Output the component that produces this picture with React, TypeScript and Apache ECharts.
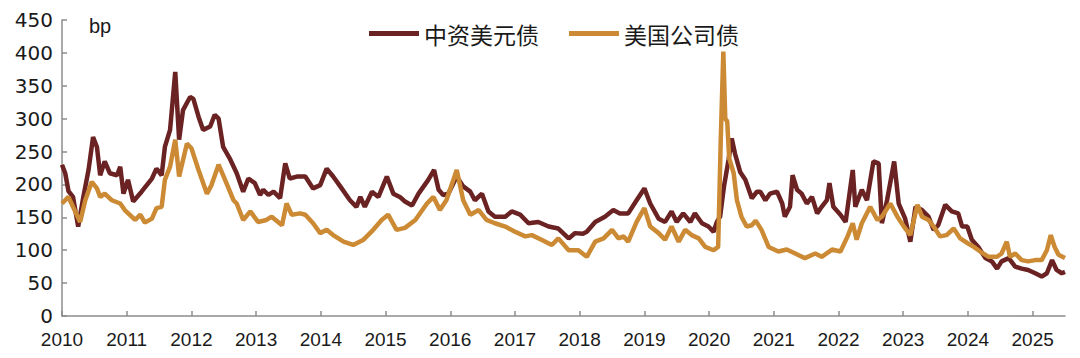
import React, { useEffect, useRef } from "react";
import * as echarts from "echarts";

const legendNames = ["中资美元债", "美国公司债"];
const yUnit = "bp";
const yearTicks = [2010, 2011, 2012, 2013, 2014, 2015, 2016, 2017, 2018, 2019, 2020, 2021, 2022, 2023, 2024, 2025];

// [fractional year, spread in bp]
const chinaUsdBond: [number, number][] = [
  [2010.0, 230], [2010.05, 217], [2010.1, 190], [2010.17, 181], [2010.25, 136], [2010.33, 181],
  [2010.41, 222], [2010.48, 272], [2010.54, 257], [2010.59, 214], [2010.66, 235], [2010.74, 217],
  [2010.85, 214], [2010.9, 227], [2010.95, 186], [2011.02, 207], [2011.1, 174], [2011.23, 189],
  [2011.39, 209], [2011.46, 224], [2011.54, 214], [2011.59, 257], [2011.67, 283], [2011.75, 371],
  [2011.81, 268], [2011.87, 313], [2011.98, 333], [2012.03, 330], [2012.11, 303], [2012.18, 283],
  [2012.29, 288], [2012.36, 306], [2012.42, 300], [2012.49, 257], [2012.6, 238], [2012.7, 217],
  [2012.8, 189], [2012.88, 209], [2012.98, 202], [2013.06, 184], [2013.11, 192], [2013.19, 184],
  [2013.27, 189], [2013.37, 179], [2013.45, 232], [2013.52, 209], [2013.63, 212], [2013.76, 212],
  [2013.88, 194], [2013.99, 199], [2014.09, 224], [2014.19, 212], [2014.3, 197], [2014.45, 176],
  [2014.55, 166], [2014.61, 181], [2014.68, 166], [2014.79, 189], [2014.89, 181], [2015.02, 212],
  [2015.12, 186], [2015.22, 181], [2015.3, 174], [2015.41, 168], [2015.51, 186], [2015.66, 207],
  [2015.75, 222], [2015.82, 192], [2015.89, 184], [2015.97, 186], [2016.1, 212], [2016.2, 197],
  [2016.31, 189], [2016.38, 176], [2016.49, 186], [2016.59, 159], [2016.69, 151], [2016.85, 151],
  [2016.95, 159], [2017.08, 154], [2017.21, 141], [2017.36, 143], [2017.52, 136], [2017.67, 133],
  [2017.83, 118], [2017.93, 126], [2018.05, 125], [2018.11, 128], [2018.24, 143], [2018.39, 151],
  [2018.52, 161], [2018.62, 156], [2018.75, 156], [2018.88, 176], [2019.0, 194], [2019.09, 171],
  [2019.22, 148], [2019.32, 143], [2019.42, 159], [2019.5, 143], [2019.6, 156], [2019.71, 143],
  [2019.78, 156], [2019.89, 141], [2019.99, 136], [2020.07, 128], [2020.12, 143], [2020.17, 151],
  [2020.23, 197], [2020.3, 237], [2020.35, 270], [2020.4, 247], [2020.48, 219], [2020.56, 207],
  [2020.66, 179], [2020.74, 189], [2020.79, 189], [2020.87, 176], [2020.94, 186], [2021.05, 189],
  [2021.13, 171], [2021.17, 151], [2021.25, 166], [2021.29, 214], [2021.36, 192], [2021.43, 186],
  [2021.51, 171], [2021.59, 181], [2021.67, 156], [2021.74, 166], [2021.82, 176], [2021.86, 202],
  [2021.92, 166], [2022.03, 154], [2022.11, 143], [2022.22, 222], [2022.26, 166], [2022.36, 192],
  [2022.44, 176], [2022.54, 235], [2022.62, 232], [2022.67, 141], [2022.75, 176], [2022.86, 235],
  [2022.93, 171], [2023.03, 148], [2023.11, 113], [2023.19, 166], [2023.29, 161], [2023.39, 151],
  [2023.47, 131], [2023.54, 138], [2023.65, 169], [2023.75, 159], [2023.85, 156], [2023.91, 136],
  [2023.99, 136], [2024.06, 116], [2024.16, 105], [2024.27, 88], [2024.37, 83], [2024.45, 72],
  [2024.52, 83], [2024.63, 88], [2024.73, 75], [2024.83, 72], [2024.93, 70], [2025.04, 65],
  [2025.14, 60], [2025.22, 65], [2025.3, 85], [2025.37, 70], [2025.45, 65], [2025.5, 67],
];

const usCorpBond: [number, number][] = [
  [2010.0, 171], [2010.1, 181], [2010.17, 166], [2010.28, 143], [2010.36, 176], [2010.46, 204],
  [2010.54, 194], [2010.59, 181], [2010.66, 186], [2010.77, 176], [2010.9, 171], [2010.97, 161],
  [2011.13, 146], [2011.21, 154], [2011.28, 142], [2011.39, 148], [2011.46, 164], [2011.54, 166],
  [2011.59, 207], [2011.67, 227], [2011.75, 268], [2011.81, 212], [2011.93, 262], [2012.0, 255],
  [2012.11, 222], [2012.24, 186], [2012.31, 199], [2012.42, 230], [2012.52, 207], [2012.65, 176],
  [2012.7, 171], [2012.8, 146], [2012.91, 159], [2013.03, 143], [2013.16, 146], [2013.24, 151],
  [2013.4, 138], [2013.47, 171], [2013.55, 154], [2013.68, 156], [2013.76, 154], [2013.88, 141],
  [2013.99, 126], [2014.09, 131], [2014.19, 123], [2014.35, 113], [2014.5, 108], [2014.66, 116],
  [2014.81, 131], [2014.94, 146], [2015.04, 154], [2015.17, 131], [2015.3, 134], [2015.46, 146],
  [2015.64, 171], [2015.74, 181], [2015.84, 161], [2015.94, 176], [2016.1, 222], [2016.2, 176],
  [2016.31, 154], [2016.44, 161], [2016.56, 146], [2016.69, 141], [2016.85, 136], [2017.0, 128],
  [2017.16, 121], [2017.26, 123], [2017.41, 116], [2017.57, 108], [2017.67, 118], [2017.83, 100],
  [2017.98, 100], [2018.11, 90], [2018.24, 113], [2018.37, 118], [2018.5, 131], [2018.6, 118],
  [2018.68, 121], [2018.75, 113], [2018.88, 143], [2019.0, 164], [2019.09, 136], [2019.22, 126],
  [2019.32, 116], [2019.42, 136], [2019.53, 113], [2019.63, 131], [2019.73, 123], [2019.84, 118],
  [2019.94, 105], [2020.07, 100], [2020.14, 105], [2020.18, 268], [2020.22, 402], [2020.25, 300],
  [2020.28, 296], [2020.31, 240], [2020.38, 217], [2020.43, 176], [2020.5, 151], [2020.58, 136],
  [2020.66, 138], [2020.72, 145], [2020.81, 131], [2020.92, 105], [2021.07, 98], [2021.2, 101],
  [2021.33, 95], [2021.48, 88], [2021.64, 95], [2021.74, 90], [2021.9, 101], [2022.03, 98],
  [2022.14, 121], [2022.22, 141], [2022.28, 116], [2022.36, 141], [2022.49, 166], [2022.6, 146],
  [2022.67, 151], [2022.8, 171], [2022.91, 151], [2023.01, 136], [2023.11, 123], [2023.22, 169],
  [2023.29, 151], [2023.39, 146], [2023.47, 136], [2023.57, 121], [2023.67, 123], [2023.78, 133],
  [2023.88, 118], [2023.99, 111], [2024.09, 105], [2024.19, 98], [2024.32, 90], [2024.45, 90],
  [2024.52, 95], [2024.6, 113], [2024.65, 90], [2024.73, 95], [2024.83, 85], [2024.93, 83],
  [2025.04, 85], [2025.14, 85], [2025.22, 100], [2025.28, 123], [2025.34, 105], [2025.4, 93],
  [2025.5, 88],
];

const MAROON = "#6b2222";
const GOLD = "#cb8a33";
const AXIS = "#8c8c8c";

export default function App() {
  const ref = useRef<HTMLDivElement>(null);
  useEffect(() => {
    if (!ref.current) return;
    const chart = echarts.init(ref.current, undefined, { renderer: "svg" });
    chart.setOption({
      animation: false,
      backgroundColor: "#ffffff",
      grid: { left: 62, right: 15, top: 20, bottom: 42, containLabel: false },
      legend: {
        data: legendNames,
        left: 364,
        top: 17,
        icon: "rect",
        itemWidth: 50,
        itemHeight: 5,
        itemGap: 30,
        textStyle: { fontSize: 23, color: "#1a1a1a", fontFamily: "Noto Sans CJK SC" },
      },
      graphic: [
        {
          type: "text",
          left: 89,
          top: 16,
          style: { text: yUnit, fontSize: 20, fill: "#1a1a1a", fontFamily: "Liberation Sans" },
        },
      ],
      xAxis: {
        type: "value",
        min: 2010,
        max: 2025.5,
        interval: 1,
        splitLine: { show: false },
        axisLine: { show: true, lineStyle: { color: AXIS, width: 1.5 } },
        axisTick: { show: true, inside: true, length: 5, lineStyle: { color: AXIS, width: 1.5 } },
        axisLabel: {
          margin: 14,
          fontSize: 19,
          color: "#1a1a1a",
          fontFamily: "Liberation Sans",
          showMaxLabel: false,
          formatter: (v: number) => (yearTicks.indexOf(v) >= 0 ? String(v) : ""),
        },
      },
      yAxis: {
        type: "value",
        min: 0,
        max: 450,
        interval: 50,
        splitLine: { show: false },
        axisLine: { show: true, lineStyle: { color: AXIS, width: 1.5 } },
        axisTick: { show: true, inside: true, length: 5, lineStyle: { color: AXIS, width: 1.5 } },
        axisLabel: { margin: 9, fontSize: 20, color: "#1a1a1a", fontFamily: "DejaVu Sans" },
      },
      series: [
        {
          name: legendNames[0],
          type: "line",
          data: chinaUsdBond,
          symbol: "none",
          color: MAROON,
          lineStyle: { color: MAROON, width: 4.5 },
          z: 2,
        },
        {
          name: legendNames[1],
          type: "line",
          data: usCorpBond,
          symbol: "none",
          color: GOLD,
          lineStyle: { color: GOLD, width: 4.5 },
          z: 3,
        },
      ],
    });
    return () => chart.dispose();
  }, []);
  return <div ref={ref} style={{ width: 1080, height: 358, position: "absolute", left: 0, top: 0 }} />;
}
